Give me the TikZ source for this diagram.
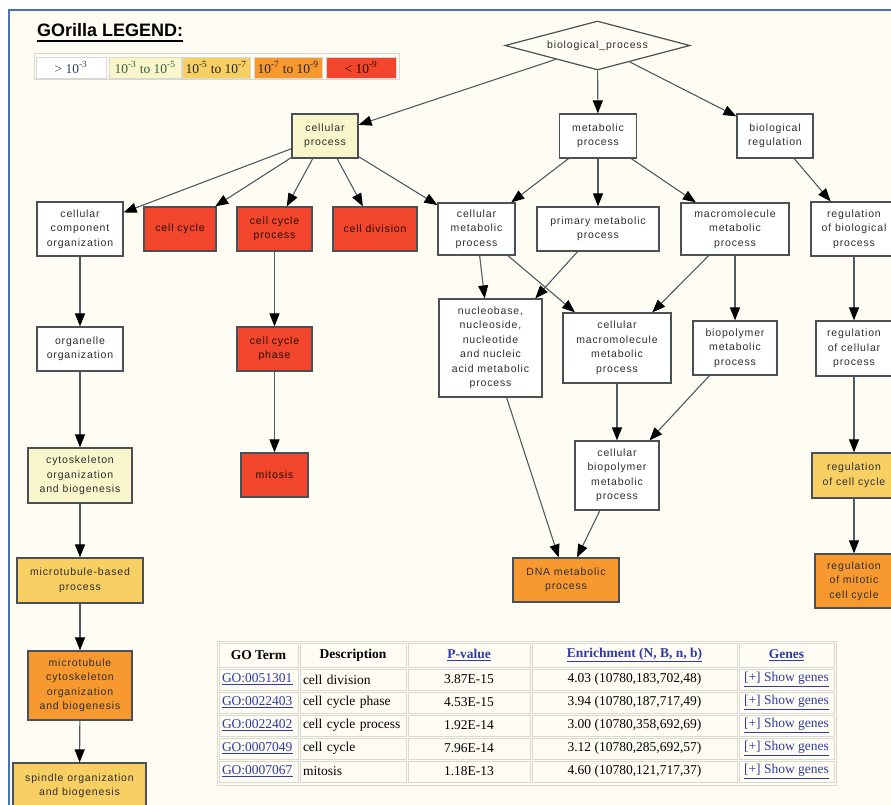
\documentclass[tikz,border=0pt]{standalone}
\usepackage{fontspec}
\setmainfont{Liberation Serif}
\newfontfamily\nodefont[LetterSpace=8]{Liberation Sans}
\newfontfamily\titlefont{Liberation Sans}
\usetikzlibrary{arrows.meta,shapes.geometric}

\definecolor{pagebg}{HTML}{FFFDF3}
\definecolor{framecol}{HTML}{4A72B8}
\definecolor{boxline}{HTML}{4A5053}
\definecolor{edgecol}{HTML}{4C5C64}
\definecolor{nodetext}{HTML}{2E2E2E}
\definecolor{redtext}{HTML}{2A0C04}
\definecolor{palefill}{HTML}{F8F6CA}
\definecolor{yellowfill}{HTML}{F8CF62}
\definecolor{orangefill}{HTML}{F7992E}
\definecolor{redfill}{HTML}{F1462C}
\definecolor{cellline}{HTML}{D9D9D4}
\definecolor{linkblue}{HTML}{2E3CA6}
\definecolor{legblue}{HTML}{2C4660}
\definecolor{leggreen}{HTML}{3C6040}

\newcommand{\golink}[1]{\textcolor{linkblue}{\underline{#1}}}

\tikzset{
  gobox/.style={draw=boxline, line width=1.2pt, inner sep=0pt, align=center,
    text=nodetext, font=\nodefont\fontsize{10.5}{14.5}\selectfont},
  plainbox/.style={gobox, fill=white},
  palebox/.style={gobox, fill=palefill},
  yellowbox/.style={gobox, fill=yellowfill},
  orangebox/.style={gobox, fill=orangefill},
  redbox/.style={gobox, fill=redfill, text=redtext},
  goedge/.style={draw=edgecol, line width=1.1pt,
    -{Triangle[length=13pt,width=10pt,color=black]}},
  legcell/.style={draw=cellline, line width=0.6pt, inner sep=0pt,
    minimum height=21, font=\fontsize{13.5}{15}\selectfont},
  tcell/.style={draw=cellline, line width=0.7pt, inner xsep=3pt, inner ysep=0pt,
    minimum height=21, font=\fontsize{13.5}{15}\selectfont, text=black},
  thead/.style={tcell, minimum height=24, font=\fontsize{13.5}{15}\selectfont\bfseries},
}

\begin{document}
\begin{tikzpicture}[x=1pt,y=-1pt]
\useasboundingbox (0,0) rectangle (891,805);
\fill[white] (0,0) rectangle (891,805);
\fill[pagebg] (9,10) rectangle (895,810);
\draw[framecol, line width=2pt] (9,810) -- (9,10) -- (895,10);

% ---------- legend ----------
\node[anchor=base west, inner sep=0pt, text=black,
      font=\titlefont\bfseries\fontsize{18}{20}\selectfont] (title) at (37,37)
      {GOrilla LEGEND:};
\draw[black, line width=1.8pt] ([yshift=-4pt]title.base west) -- ([yshift=-4pt]title.base east);
\draw[cellline, line width=1pt] (34,54) rectangle (399,80);
\node[legcell, fill=white, minimum width=70, text=legblue] (leg1) at (71,67.5)
  {> 10\textsuperscript{-3}};
\node[legcell, fill=palefill, minimum width=72, text=leggreen] (leg2) at (145,67.5)
  {10\textsuperscript{-3} to 10\textsuperscript{-5}};
\node[legcell, fill=yellowfill, minimum width=68, text=black!85] (leg3) at (216,67.5)
  {10\textsuperscript{-5} to 10\textsuperscript{-7}};
\node[legcell, fill=orangefill, minimum width=68, text=black!85] (leg4) at (288,67.5)
  {10\textsuperscript{-7} to 10\textsuperscript{-9}};
\node[legcell, fill=redfill, minimum width=70, text=redtext] (leg5) at (361,67.5)
  {< 10\textsuperscript{-9}};

% ---------- GO graph ----------
\node[draw=boxline, line width=1.2pt, fill=pagebg, shape=diamond, aspect=3.78,
      minimum width=185, minimum height=49, inner sep=0pt, text=nodetext,
      font=\nodefont\fontsize{10.5}{14.5}\selectfont] (bp) at (597.5,45.5)
      {biological\_process};

\node[palebox, minimum width=66, minimum height=44] (cp) at (325,136) {cellular\\process};
\node[plainbox, minimum width=77, minimum height=44] (mp) at (598,136) {metabolic\\process};
\node[plainbox, minimum width=76, minimum height=44] (br) at (775,136) {biological\\regulation};

\node[plainbox, minimum width=86, minimum height=54] (cco) at (80,229) {cellular\\component\\organization};
\node[redbox, minimum width=72, minimum height=44] (cc) at (180,229) {cell cycle};
\node[redbox, minimum width=75, minimum height=44] (ccp) at (274.5,229) {cell cycle\\process};
\node[redbox, minimum width=84, minimum height=44] (cd) at (375,229) {cell division};
\node[plainbox, minimum width=77, minimum height=52] (cmp) at (476.5,229) {cellular\\metabolic\\process};
\node[plainbox, minimum width=122, minimum height=44] (pmp) at (598,229) {primary metabolic\\process};
\node[plainbox, minimum width=108, minimum height=52] (mmp) at (735,229) {macromolecule\\metabolic\\process};
\node[plainbox, minimum width=86, minimum height=54] (rbp) at (854,229) {regulation\\of biological\\process};

\node[plainbox, minimum width=86, minimum height=44] (oo) at (80,349) {organelle\\organization};
\node[redbox, minimum width=75, minimum height=44] (ccph) at (274.5,349) {cell cycle\\phase};
\node[plainbox, minimum width=103, minimum height=98] (nuc) at (490.5,348) {nucleobase,\\nucleoside,\\nucleotide\\and nucleic\\acid metabolic\\process};
\node[plainbox, minimum width=108, minimum height=70] (cmm) at (617,348) {cellular\\macromolecule\\metabolic\\process};
\node[plainbox, minimum width=84, minimum height=54] (bpm) at (735,348) {biopolymer\\metabolic\\process};
\node[plainbox, minimum width=76, minimum height=55] (rcp) at (854,348.5) {regulation\\of cellular\\process};

\node[palebox, minimum width=104, minimum height=55] (csk) at (80,475.5) {cytoskeleton\\organization\\and biogenesis};
\node[redbox, minimum width=67, minimum height=44] (mit) at (274.5,475) {mitosis};
\node[plainbox, minimum width=84, minimum height=69] (cbp) at (617,475.5) {cellular\\biopolymer\\metabolic\\process};
\node[yellowbox, minimum width=84, minimum height=45] (rcc) at (854,475.5) {regulation\\of cell cycle};

\node[yellowbox, minimum width=126, minimum height=45] (mtb) at (80,580.5) {microtubule-based\\process};
\node[orangebox, minimum width=106, minimum height=44] (dna) at (566,580) {DNA metabolic\\process};
\node[orangebox, minimum width=78, minimum height=54] (rmc) at (854,581) {regulation\\of mitotic\\cell cycle};

\node[orangebox, minimum width=104, minimum height=69] (mtc) at (80,685.5) {microtubule\\cytoskeleton\\organization\\and biogenesis};
\node[yellowbox, minimum width=133, minimum height=46] (spo) at (79.5,786) {spindle organization\\and biogenesis};

% edges
\draw[goedge] (bp) -- (cp);
\draw[goedge] (bp) -- (mp);
\draw[goedge] (bp) -- (br);
\draw[goedge] (cp) -- (cco);
\draw[goedge] (cp) -- (cc);
\draw[goedge] (cp) -- (ccp);
\draw[goedge] (cp) -- (cd);
\draw[goedge] (cp) -- (cmp);
\draw[goedge] (mp) -- (cmp);
\draw[goedge] (mp) -- (pmp);
\draw[goedge] (mp) -- (mmp);
\draw[goedge] (br) -- (rbp);
\draw[goedge] (cco) -- (oo);
\draw[goedge] (ccp) -- (ccph);
\draw[goedge] (cmp) -- (nuc);
\draw[goedge] (cmp) -- (cmm);
\draw[goedge] (pmp) -- (nuc);
\draw[goedge] (mmp) -- (cmm);
\draw[goedge] (mmp) -- (bpm);
\draw[goedge] (rbp) -- (rcp);
\draw[goedge] (oo) -- (csk);
\draw[goedge] (ccph) -- (mit);
\draw[goedge] (nuc) -- (dna);
\draw[goedge] (cmm) -- (cbp);
\draw[goedge] (bpm) -- (cbp);
\draw[goedge] (cbp) -- (dna);
\draw[goedge] (rcp) -- (rcc);
\draw[goedge] (rcc) -- (rmc);
\draw[goedge] (csk) -- (mtb);
\draw[goedge] (mtb) -- (mtc);
\draw[goedge] (mtc) -- (spo);

% ---------- results table ----------
\draw[cellline, line width=1pt] (217,641) rectangle (836,785);

\node[thead, minimum width=79] (h1) at (258.5,655) {GO Term};
\node[thead, minimum width=106] (h2) at (353,655) {Description};
\node[thead, minimum width=122] (h3) at (469,655) {\golink{P-value}};
\node[thead, minimum width=205] (h4) at (634.5,655) {\golink{Enrichment (N, B, n, b)}};
\node[thead, minimum width=95] (h5) at (786.5,655) {\golink{Genes}};

\node[tcell, text width=73, align=left] (a1) at (258.5,679.5) {\golink{GO:0051301}};
\node[tcell, text width=100, align=left] (b1) at (353,679.5) {cell division};
\node[tcell, minimum width=122] (c1) at (469,679.5) {3.87E-15};
\node[tcell, minimum width=205] (d1) at (634.5,679.5) {4.03 (10780,183,702,48)};
\node[tcell, minimum width=95] (e1) at (786.5,679.5) {\golink{[+] Show genes}};

\node[tcell, text width=73, align=left] (a2) at (258.5,702.5) {\golink{GO:0022403}};
\node[tcell, text width=100, align=left] (b2) at (353,702.5) {cell cycle phase};
\node[tcell, minimum width=122] (c2) at (469,702.5) {4.53E-15};
\node[tcell, minimum width=205] (d2) at (634.5,702.5) {3.94 (10780,187,717,49)};
\node[tcell, minimum width=95] (e2) at (786.5,702.5) {\golink{[+] Show genes}};

\node[tcell, text width=73, align=left] (a3) at (258.5,725.5) {\golink{GO:0022402}};
\node[tcell, text width=100, align=left] (b3) at (353,725.5) {cell cycle process};
\node[tcell, minimum width=122] (c3) at (469,725.5) {1.92E-14};
\node[tcell, minimum width=205] (d3) at (634.5,725.5) {3.00 (10780,358,692,69)};
\node[tcell, minimum width=95] (e3) at (786.5,725.5) {\golink{[+] Show genes}};

\node[tcell, text width=73, align=left] (a4) at (258.5,748.5) {\golink{GO:0007049}};
\node[tcell, text width=100, align=left] (b4) at (353,748.5) {cell cycle};
\node[tcell, minimum width=122] (c4) at (469,748.5) {7.96E-14};
\node[tcell, minimum width=205] (d4) at (634.5,748.5) {3.12 (10780,285,692,57)};
\node[tcell, minimum width=95] (e4) at (786.5,748.5) {\golink{[+] Show genes}};

\node[tcell, text width=73, align=left] (a5) at (258.5,771.5) {\golink{GO:0007067}};
\node[tcell, text width=100, align=left] (b5) at (353,771.5) {mitosis};
\node[tcell, minimum width=122] (c5) at (469,771.5) {1.18E-13};
\node[tcell, minimum width=205] (d5) at (634.5,771.5) {4.60 (10780,121,717,37)};
\node[tcell, minimum width=95] (e5) at (786.5,771.5) {\golink{[+] Show genes}};
\end{tikzpicture}
\end{document}
